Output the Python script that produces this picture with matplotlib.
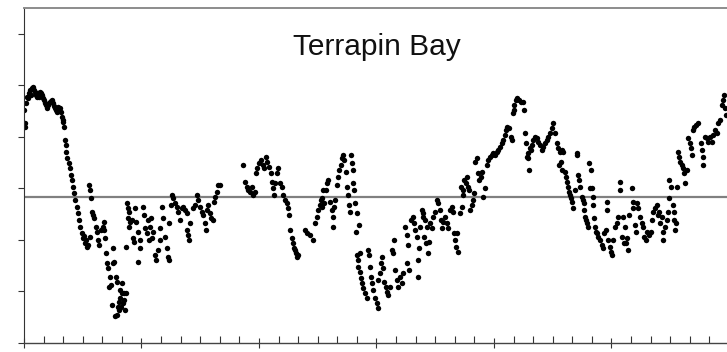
import numpy as np
import matplotlib
matplotlib.use("Agg")
import matplotlib.pyplot as plt

# daily readings, three years of record (day counted from start)
day_y1 = [
    0, 1, 2, 3, 5, 6, 8, 9, 11, 12,
    14, 16, 17, 19, 20, 22, 23, 25, 26, 28,
    30, 31, 33, 34, 36, 37, 39, 40, 42, 44,
    45, 47, 48, 50, 51, 53, 54, 56, 58, 59,
    60, 61, 62,
    64, 65, 66, 67, 70, 72, 73, 75, 76, 78,
    79, 82, 84, 86, 87, 90, 92, 93, 95, 96,
    98, 100, 103,
    101, 102, 104, 106, 107, 109, 112, 114, 115, 117,
    120, 123, 124, 125, 126, 128, 129, 131, 132, 134,
    135, 137, 138, 139, 140, 142, 143, 144, 145, 146,
    147, 148, 149, 150, 151, 152, 153, 154, 155, 156,
    157, 158,
    159, 160, 161, 162, 163, 164, 165, 168, 170, 171,
    173, 174, 177, 178, 180, 181, 185, 186, 188, 191,
    193, 194, 196, 197, 199, 200, 204, 205, 208, 211,
    212, 214, 216, 219, 222, 224, 225, 226, 229, 230,
    232, 235, 238, 239, 243, 246, 247, 250, 253, 254,
    255, 256, 258, 263, 266, 269, 271, 274, 277, 278,
    281, 283, 285, 286, 289, 291, 294, 295, 297, 300,
    302, 305,
    341, 344, 347, 348, 351, 355, 356, 359, 361, 362,
]
level_y1 = [
    45.2, 42.7, 41.9, 46.6, 47.8, 47.6, 48.5, 49.0, 48.2, 49.5,
    49.7, 49.1, 48.7, 48.2, 47.8, 48.5, 47.8, 48.7, 48.5, 48.2,
    47.6, 47.2, 46.6, 46.2, 45.6, 46.2, 46.6, 46.8, 47.0, 47.2,
    46.6, 46.0, 45.6, 45.2, 44.9, 45.8, 45.2, 45.6, 44.9, 43.9,
    43.3, 42.9, 41.9,
    39.4, 38.4, 37.1, 35.9, 35.0, 34.0, 32.6, 31.7, 30.3, 29.1,
    27.8, 26.4, 25.2, 23.9, 22.5, 21.4, 20.4, 20.8, 19.4, 20.0,
    18.6, 19.0, 20.6,
    30.7, 29.7, 28.2, 25.4, 24.9, 24.3, 22.5, 21.6, 20.0, 19.0,
    21.9, 22.5, 23.5, 21.9, 20.4, 17.5, 15.5, 14.6, 10.9, 12.8,
    11.3, 7.4, 18.4, 15.5, 15.7, 5.2, 12.8, 5.4, 11.8, 7.0,
    8.0, 6.4, 10.3, 8.7, 7.0, 9.7, 11.7, 7.8, 8.3, 9.7,
    6.4, 9.7,
    18.6, 27.2, 26.2, 24.3, 25.4, 22.5, 23.5, 23.9, 20.4, 19.6,
    26.2, 23.5, 21.6, 15.7, 20.0, 18.4, 26.4, 24.9, 22.3, 21.4,
    23.9, 20.0, 22.5, 24.3, 20.4, 21.6, 17.1, 16.1, 18.1, 20.0,
    22.3, 26.4, 24.3, 20.6, 18.4, 16.7, 16.1, 23.3, 26.8, 28.7,
    28.2, 27.2, 26.4, 25.4, 23.9, 26.2, 26.4, 25.8, 25.2, 21.9,
    21.0, 20.0, 23.3, 26.2, 26.8, 28.7, 27.8, 26.4, 25.4, 24.9,
    23.3, 21.9, 25.8, 26.8, 25.2, 24.3, 23.9, 27.4, 28.4, 29.3,
    30.7, 30.7,
    34.6, 31.3, 30.3, 29.7, 29.3, 30.3, 28.7, 29.3, 33.0, 34.0,
]

day_y2 = [
    365, 369, 372, 373, 376, 378, 381, 384, 386, 387,
    388, 390, 393, 395, 398, 401, 403, 406, 409, 410,
    412, 414, 417, 418, 420, 421, 423, 425, 426, 437,
    440, 445, 449, 453, 456, 457, 460, 461, 463, 464,
    465, 466, 469, 471, 473, 476, 479, 480, 481, 482,
    484, 487, 488, 490, 493, 494, 496, 498, 501, 502,
    504, 505, 507, 508, 510, 511, 512, 513, 515, 516,
    518, 521, 517, 519, 520, 522, 523, 524, 526, 527,
    530, 533, 535, 536, 538, 540, 541, 543, 546, 549,
    550, 551, 554, 555, 557, 558, 560, 563, 564, 566,
    569, 572, 574, 575, 577, 580, 582, 585, 588, 589,
    592, 595, 596, 597, 599, 602, 605, 606, 608, 611,
    612, 613, 614, 616, 619, 620, 621, 622, 624, 625,
    627, 628, 629, 631, 634, 636, 639, 642, 644, 647,
    648, 650, 652, 655, 658, 659, 662, 666, 667, 668,
    670, 671, 673, 674, 678, 679, 681, 682, 683, 684,
    687, 689, 690, 692, 694, 697, 698, 699, 701, 704,
    706, 708, 711, 712, 714, 717, 720, 722, 725, 728,
    729,
]
level_y2 = [
    35.0, 35.5, 34.6, 34.0, 36.1, 35.1, 34.2, 33.0, 31.3, 30.1,
    28.7, 31.1, 33.0, 34.0, 31.1, 30.3, 28.7, 27.8, 27.2, 26.2,
    24.9, 21.9, 20.4, 19.4, 18.4, 18.1, 17.5, 16.7, 17.1, 21.9,
    21.4, 21.0, 20.0, 23.3, 24.5, 25.8, 26.8, 27.8, 28.2, 26.4,
    29.7, 27.2, 29.7, 31.1, 31.7, 27.4, 25.8, 22.5, 24.5, 26.4,
    27.8, 30.7, 32.2, 33.6, 34.6, 35.9, 36.5, 35.5, 33.2, 30.3,
    28.7, 26.8, 25.4, 36.5, 35.0, 33.6, 31.1, 29.7, 27.2, 21.6,
    25.2, 22.9, 17.1, 16.1, 14.8, 13.8, 17.5, 12.6, 11.7, 10.7,
    9.7, 8.7, 18.1, 17.1, 14.8, 12.8, 11.7, 10.3, 8.7, 7.8,
    6.8, 12.2, 13.6, 15.5, 16.7, 14.6, 11.8, 10.9, 9.9, 9.3,
    10.9, 18.1, 17.5, 20.0, 14.2, 12.2, 10.9, 12.8, 11.7, 13.6,
    22.5, 21.0, 15.5, 19.0, 14.2, 23.9, 24.5, 23.3, 21.9, 20.6,
    16.1, 12.8, 18.4, 22.5, 25.8, 24.5, 25.2, 20.6, 23.9, 19.4,
    22.5, 17.5, 19.6, 23.3, 22.3, 24.5, 25.4, 27.8, 27.2, 25.8,
    23.9, 22.3, 23.5, 24.5, 23.3, 22.3, 25.8, 26.4, 25.4, 21.4,
    20.0, 18.6, 21.4, 17.7, 25.2, 30.3, 26.4, 29.7, 28.7, 31.7,
    31.1, 32.2, 30.3, 29.7, 25.8, 26.8, 27.8, 29.1, 35.1, 35.9,
    33.0, 31.7, 32.2, 33.2, 28.4, 30.1, 34.6, 35.5, 36.1, 36.5,
    36.9,
]

day_y3 = [
    732, 736, 737, 740, 743, 745, 748, 750, 751, 754,
    757, 758, 760, 761, 762, 765, 767, 770, 773, 776,
    778, 779, 781, 782, 783, 784, 785, 786, 788, 790,
    792, 795, 798, 799, 802, 806, 807, 810, 813, 815,
    818, 821, 823, 826, 829, 830, 832, 833, 835, 836,
    837, 838, 841, 843, 844, 846, 847, 849, 851, 852,
    854, 857, 859, 860, 862, 863, 865, 868, 869, 870,
    871, 872, 874, 875, 877, 878, 880, 881, 883, 884,
    885, 886, 888, 889, 891, 893, 896, 899, 900, 902,
    905, 906, 907, 908, 911, 913, 914, 916, 919, 922,
    924, 926, 927, 930, 931, 932, 935, 936, 938, 939,
    940, 945, 946, 947, 950, 952, 953, 955, 958, 961,
    963, 964, 967, 969, 972, 975, 977, 978, 981, 984,
    985, 987, 989, 992, 993, 994, 997, 1000, 1001, 1002,
    1003, 1006, 1009, 1010, 1011, 1012, 1014, 1015, 1017, 1019,
    1020, 1023, 1025, 1026, 1028, 1031, 1033, 1036, 1037, 1039,
    1040, 1042, 1045, 1048, 1053, 1054, 1055, 1056, 1059, 1062,
    1064, 1067, 1070, 1071, 1075, 1078, 1079, 1082, 1085, 1087,
    1089, 1090, 1092,
]
level_y3 = [
    36.5, 37.1, 37.5, 38.1, 38.8, 39.4, 40.4, 41.4, 41.9, 41.7,
    40.0, 39.4, 44.7, 45.2, 46.2, 47.2, 47.6, 47.2, 46.8, 46.8,
    45.2, 40.8, 38.8, 36.1, 36.9, 35.9, 33.6, 37.9, 37.5, 38.4,
    39.4, 40.0, 39.8, 39.0, 38.4, 37.5, 38.1, 38.8, 39.4, 40.0,
    40.8, 41.7, 42.7, 40.8, 38.8, 37.9, 34.6, 37.1, 35.1, 33.6,
    37.5, 37.1, 33.2, 32.2, 31.3, 30.3, 29.3, 28.7, 28.2, 27.4,
    26.2, 29.7, 36.9, 36.5, 32.6, 31.7, 30.3, 28.4, 27.8, 27.2,
    25.8, 24.5, 23.9, 23.3, 22.5, 35.0, 30.1, 33.6, 30.1, 28.4,
    26.8, 24.3, 22.5, 21.6, 21.4, 20.6, 20.0, 19.0, 18.4, 21.4,
    21.9, 27.4, 25.8, 20.0, 18.6, 17.7, 17.1, 20.0, 22.5, 23.3,
    24.5, 31.3, 29.7, 20.6, 24.5, 19.4, 22.5, 19.4, 20.4, 18.1,
    24.9, 30.1, 27.4, 26.2, 22.9, 21.6, 27.2, 26.2, 24.5, 23.3,
    22.5, 20.6, 20.0, 21.6, 21.0, 21.6, 23.9, 25.4, 26.2, 26.8,
    24.9, 25.4, 23.3, 24.5, 20.0, 21.6, 22.5, 23.9, 25.4, 28.2,
    31.7, 30.3, 26.8, 25.4, 23.9, 21.9, 23.3, 30.3, 37.1, 36.1,
    35.1, 34.6, 34.0, 33.0, 31.1, 33.6, 39.8, 38.8, 37.9, 36.5,
    41.4, 41.9, 42.3, 42.7, 38.8, 37.5, 36.1, 34.6, 40.0, 39.8,
    39.0, 40.0, 39.0, 40.4, 41.4, 40.8, 42.7, 43.3, 46.2, 47.2,
    48.2, 45.6, 44.3,
]

mean_level = 28.3
record_days = 1096

fig = plt.figure(figsize=(7.27, 3.52), dpi=100)
ax = fig.add_axes([24 / 727, 9 / 352, 705 / 727, 335 / 352])

ax.axhline(mean_level, color="#808080", lw=1.6, zorder=1)
for d, v in [(day_y1, level_y1), (day_y2, level_y2), (day_y3, level_y3)]:
    ax.plot(d, v, "o", ms=3.9, mew=0, color="black", zorder=2)

ax.set_xlim(0, record_days)
ax.set_ylim(0, 65)

# half-year majors, monthly minors
months = np.linspace(0, record_days, 37)
ax.set_xticks(months[::6])
ax.set_xticks([m for i, m in enumerate(months) if i % 6], minor=True)
ax.set_yticks(np.arange(0, 61, 10))
ax.set_xticklabels([])
ax.set_yticklabels([])

ax.tick_params(axis="x", which="major", direction="inout", length=7, width=0.8, colors="#333333")
ax.tick_params(axis="x", which="minor", direction="in", length=4.8, width=0.8, colors="#333333")
ax.tick_params(axis="y", which="major", direction="out", length=4.3, width=0.8, colors="#333333")

ax.spines["left"].set_color("#333333")
ax.spines["left"].set_linewidth(0.8)
ax.spines["bottom"].set_color("#444444")
ax.spines["bottom"].set_linewidth(1.0)
ax.spines["top"].set_color("#8c8c8c")
ax.spines["top"].set_linewidth(1.4)
ax.spines["right"].set_color("#8c8c8c")

ax.text(0.5, 0.86, "Terrapin Bay", transform=ax.transAxes, ha="center", va="baseline",
        fontsize=21.5, family="Liberation Sans", color="#111111")

fig.savefig("out.png", dpi=100)
